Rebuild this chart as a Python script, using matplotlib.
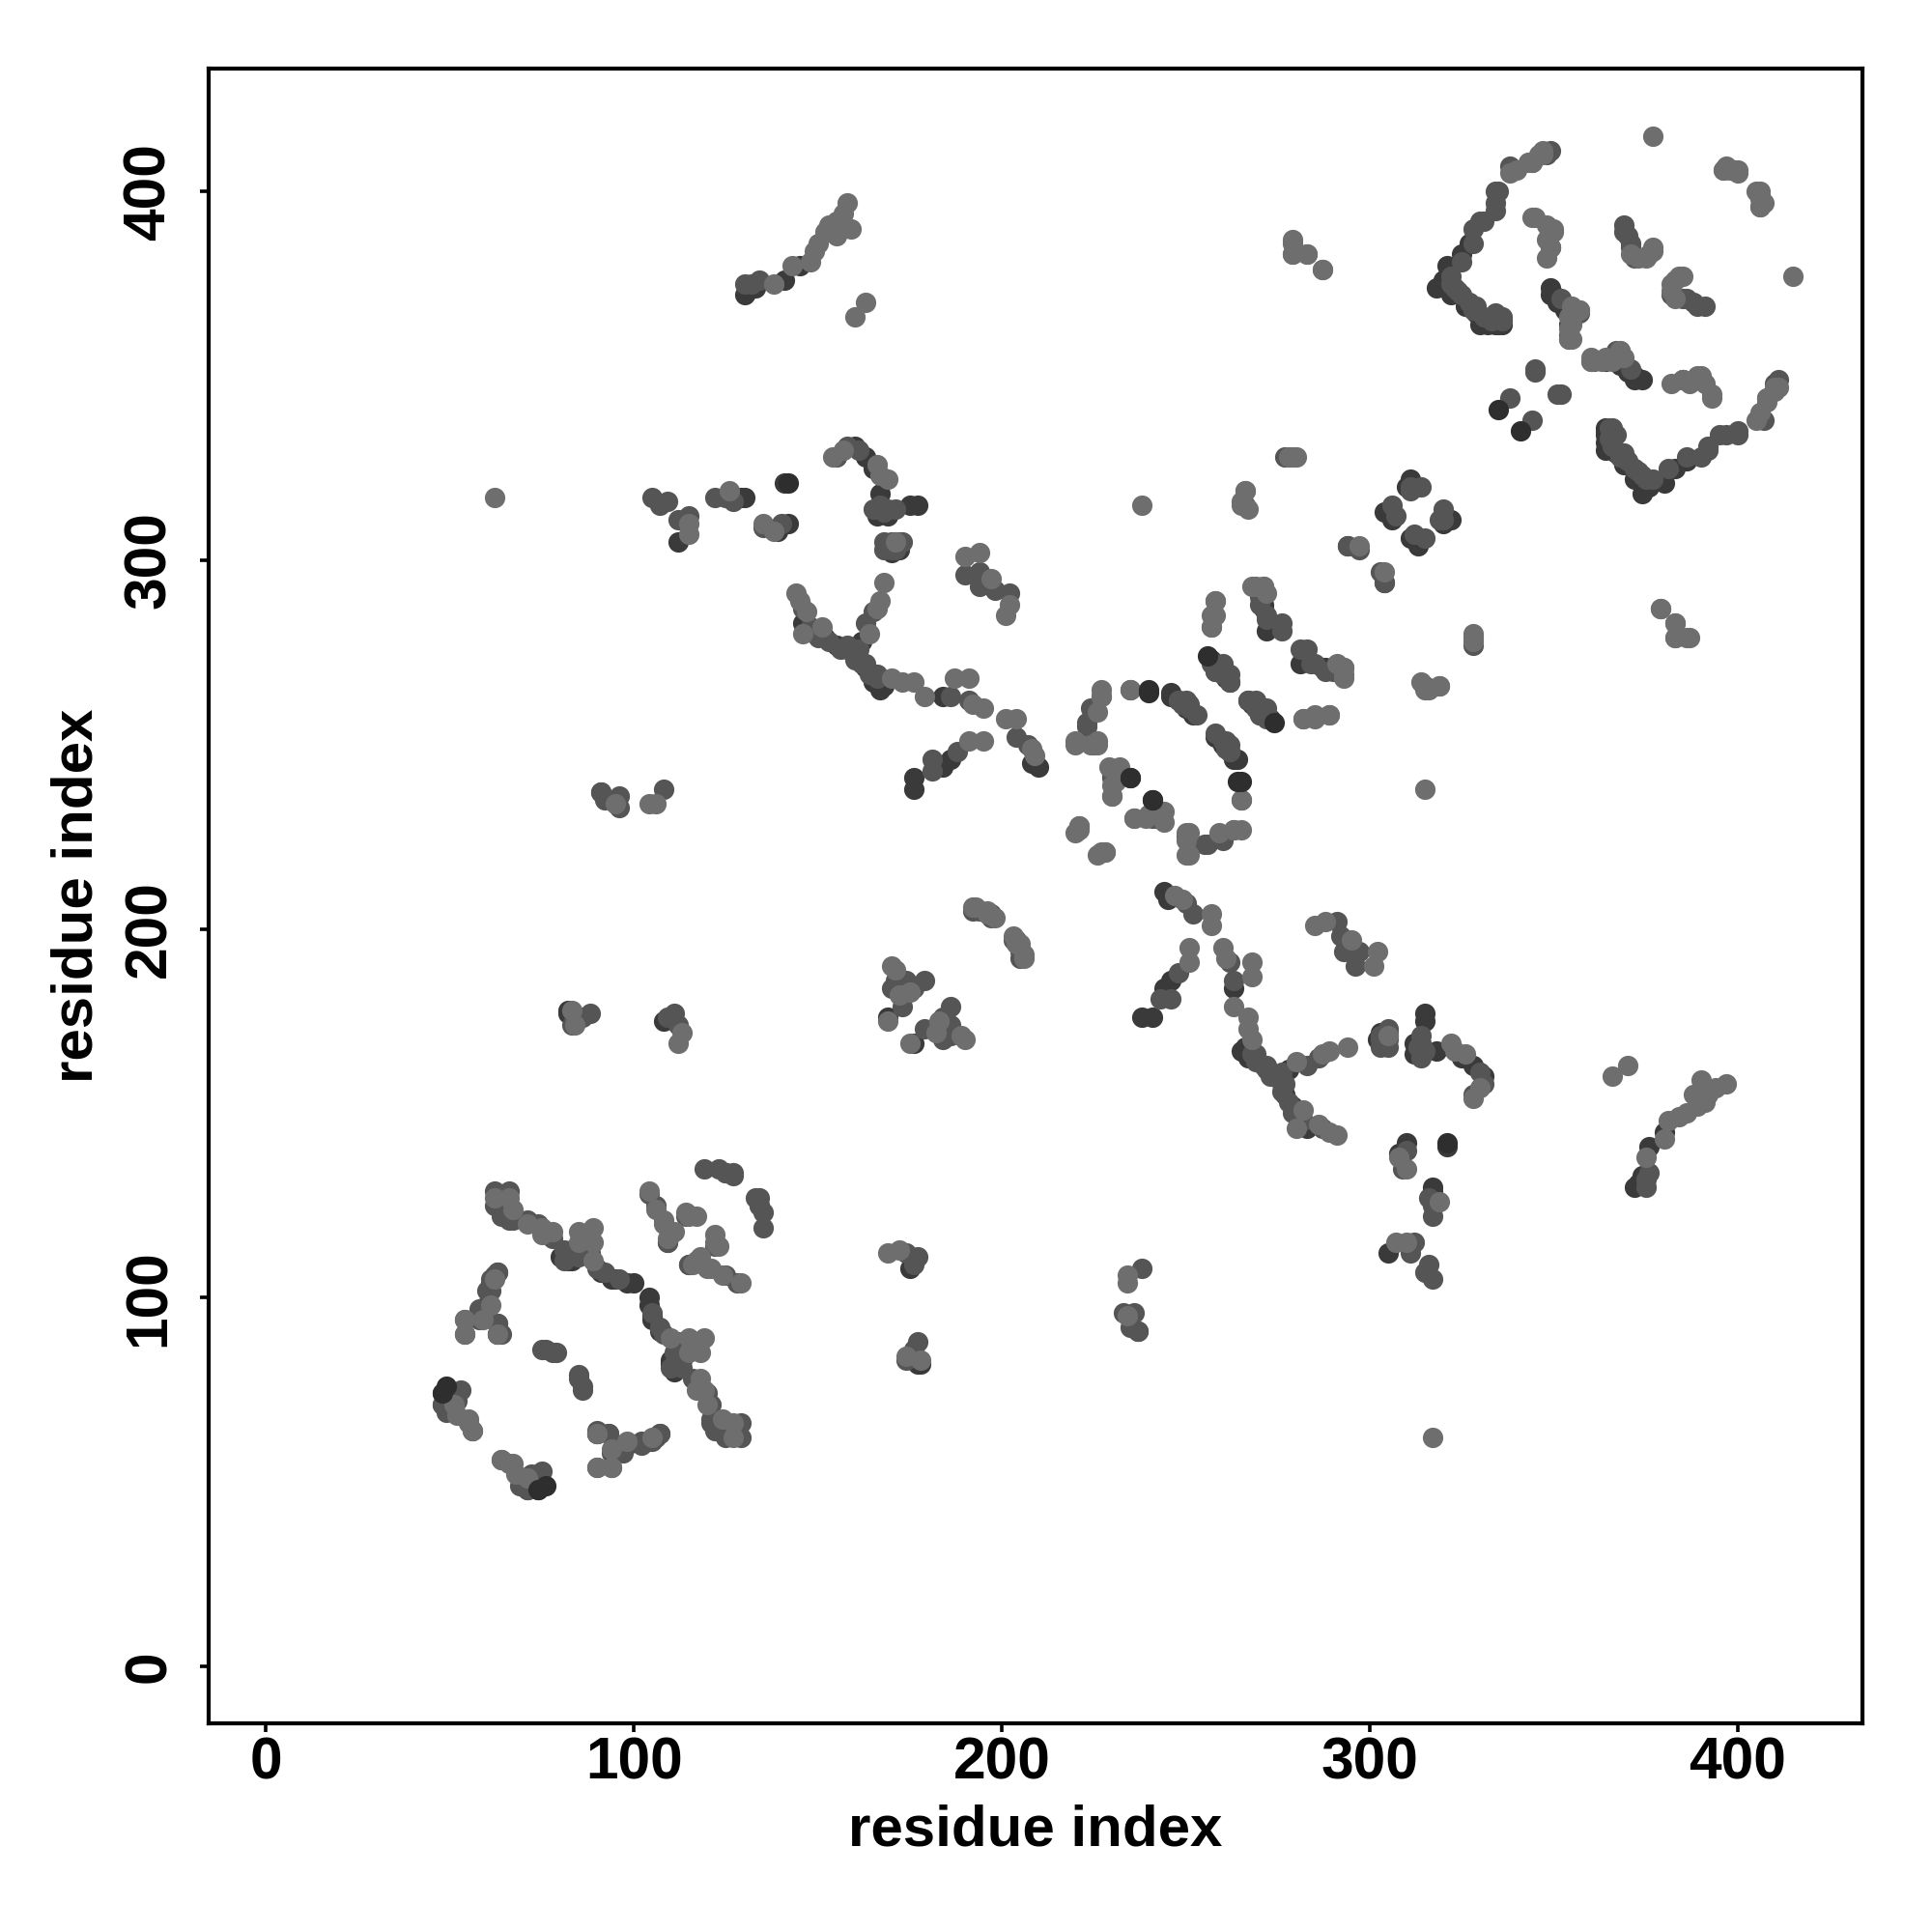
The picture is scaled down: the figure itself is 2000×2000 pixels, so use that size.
import numpy as np
import matplotlib
matplotlib.use("Agg")
import matplotlib.pyplot as plt

plt.rcParams['font.family'] = ['Liberation Sans', 'DejaVu Sans']

# contact pairs (i, j), i < j. the map is symmetric so
# every pair is drawn twice
contacts_black = [
    (74,48),(76,49),(142,321),(235,241),(241,235),(240,264),(265,240),(335,341),(274,256),
]
contacts_dark = [
    (48,74),(50,74),(71,48),(80,111),(83,110),(100,104),(94,105),
    (104,98),(105,95),(107,91),(110,82),(112,84),(60,98),(61,104),(63,90),
    (130,372),(131,373),(133,374),(141,376),(145,380),
    (141,321),(139,308),(142,310),(129,317),(130,317),(112,305),
    (160,331),(163,328),(165,325),(167,318),(166,312),(169,312),(175,315),(177,315),
    (170,302),(172,303),(160,274),(163,271),(165,267),(167,265),(168,266),(184,263),
    (146,283),(152,279),(155,277),(162,278),(176,238),(176,241),(184,244),(186,246),
    (208,245),(210,244),(82,178),(108,175),(177,83),(177,82),(237,91),(176,169),
    (246,264),(250,260),(252,258),
    (257,273),(259,270),(262,267),(260,250),(263,246),(268,261),(271,258),
    (272,281),(271,287),(282,274),(288,271),(304,294),(312,320),(306,311),(313,304),
    (320,310),(322,311),(318,374),(322,372),(326,369),(330,364),(335,364),
    (349,372),(351,370),(353,368),(354,364),(370,352),(372,350),(374,349),
    (321,380),(325,383),(327,386),(376,320),(329,367),(332,364),(334,364),(336,364),
]
contacts_mid = [
    (48,71),(49,69),(52,72),(53,75),(56,64),(54,90),(58,94),(60,96),(60,102),(61,105),
    (63,93),(63,107),(75,86),(78,85),(85,79),(76,86),(66,125),(64,122),(67,121),
    (78,116),(81,113),(85,111),(88,112),(90,108),(92,107),(96,105),(81,110),(83,113),
    (74,120),(71,121),(66,121),(62,106),(65,128),(64,90),(62,129),(62,125),(66,129),
    (93,63),(90,63),(94,54),(97,58),(102,61),(107,63),(104,128),(106,125),(109,115),
    (115,109),(122,114),(119,135),(123,135),(125,134),(127,134),(133,127),(134,125),
    (86,176),(88,177),(83,174),(109,176),(111,177),(112,174),(92,235),(91,237),
    (96,236),(96,233),(108,238),(105,317),(107,315),(109,316),(112,311),(115,312),
    (122,317),(125,317),(127,316),(135,309),(140,310),(155,328),(158,331),(161,330),
    (168,313),(171,314),(170,305),(172,305),(146,287),(148,282),(150,280),(158,276),
    (161,276),(163,272),(166,269),(186,263),(191,262),(163,283),(165,286),(181,243),
    (181,246),(188,248),(204,252),(207,250),(190,296),(194,297),(194,293),(198,292),
    (202,291),(171,186),(174,186),(176,184),(173,179),(179,186),(170,184),(192,205),
    (197,204),(203,197),(205,194),(223,255),(230,241),(242,230),(250,225),(260,224),
    (256,223),(265,235),(258,253),(261,251),(262,248),(258,272),(260,271),(269,262),
    (272,260),(270,288),(272,285),(276,281),(283,276),(284,272),(290,270),(294,304),
    (303,297),(307,312),(311,320),(314,320),(315,306),(319,311),(315,266),(328,277),
    (322,377),(324,373),(328,368),(334,367),(336,365),(328,390),(331,392),(334,397),
    (335,400),(345,351),(345,352),(338,344),(349,385),(354,361),(352,371),(357,367),
    (369,389),(371,386),(382,372),(385,371),(388,370),(391,369),(325,381),(328,386),
    (330,392),(334,395),(334,400),(338,407),(344,408),(348,410),(349,411),
    (130,375),(132,375),(134,376),(150,279),(153,278),(156,276),(158,277),(160,273),
    (162,272),(164,269),(166,268),(165,314),(167,315),(169,314),(170,304),(171,303),
    (173,305),(258,270),(260,269),(262,267),(248,262),(249,261),(251,260),(261,249),
    (262,250),(270,258),(272,257),(269,260),(168,303),(168,305),(170,303),(171,305),
    (322,375),(323,374),(325,372),(327,370),(329,369),(331,366),(333,365),(336,366),
]
contacts_light = [
    (54,94),(55,66),(64,56),(68,52),(71,51),(67,55),(62,317),(63,90),(62,127),(66,127),
    (67,124),(71,120),(75,119),(75,117),(85,115),(88,116),(89,119),(89,115),(89,110),
    (85,118),(78,118),(90,54),(94,59),(98,61),(105,62),(104,129),(106,124),(108,121),
    (110,117),(115,122),(117,122),(114,123),(118,111),(116,109),(120,108),
    (160,366),(163,370),(138,375),(143,380),(148,381),(149,384),(150,386),(152,389),
    (153,391),(155,388),(155,392),(157,394),(158,397),(159,390),(83,178),(84,174),
    (112,169),(113,172),(104,234),(106,234),(95,234),(115,310),(115,307),(126,319),
    (135,310),(138,308),(154,328),(157,330),(166,326),(169,322),(167,323),(171,305),
    (144,291),(145,289),(147,286),(146,280),(151,282),(168,294),(167,289),(166,287),
    (164,280),(170,268),(173,267),(176,267),(179,263),(187,268),(191,268),(192,261),
    (195,260),(190,301),(194,302),(197,295),(202,288),(201,285),(191,251),(195,251),
    (201,257),(204,257),(209,247),(208,249),(170,190),(171,189),(169,175),(175,183),
    (172,182),(193,206),(196,205),(198,203),(204,196),(206,192),(220,250),(224,250),
    (226,259),(227,263),(226,250),(235,265),(232,244),(231,240),(230,236),(236,230),
    (239,230),(244,229),(220,226),(221,228),(227,221),(228,221),(251,226),(251,220),
    (263,227),(265,227),(258,289),(258,285),(257,282),(268,293),(271,293),(272,291),
    (282,257),(285,257),(289,258),(279,386),(279,383),(283,383),(287,379),(278,328),
    (280,328),(238,315),(266,319),(265,315),(267,314),(293,269),(293,271),(297,304),
    (316,265),(319,266),(328,279),(379,287),(383,283),(383,279),(387,279),(377,415),
    (346,410),(347,411),(340,406),(338,405),(344,408),(345,393),(348,391),(350,389),
    (349,385),(355,369),(357,368),(355,364),(355,360),(360,354),(363,354),(368,357),
    (366,354),(348,382),(349,385),(348,387),(344,393),(377,384),(373,382),(375,382),
    (371,383),(383,376),(385,377),(396,406),(398,406),(400,405),(397,407),(399,406),
    (354,360),(350,390),(400,406),(406,396),(406,399),(343,408),(347,410),
]

tone_colors = ['#3a3a3a', '#555555', '#6e6e6e', '#2e2e2e']
tick_values = [0, 100, 200, 300, 400]
axis_label = 'residue index'

fig = plt.figure(figsize=(10, 10), dpi=200)
ax = fig.add_axes([0.108, 0.108, 0.856, 0.8565])

groups = [contacts_dark, contacts_mid, contacts_light, contacts_black]
for pairs, colr in zip(groups, tone_colors):
    pts = np.array(pairs)
    ax.scatter(np.r_[pts[:, 0], pts[:, 1]], np.r_[pts[:, 1], pts[:, 0]],
               s=58, c=colr, linewidths=0, zorder=3)

ax.set_xlim(-15.6, 433.9)
ax.set_ylim(-15.5, 433.4)
ax.set_xticks(tick_values)
ax.set_yticks(tick_values)
ax.set_xticklabels(tick_values, fontsize=21.8, fontweight='bold')
ax.set_yticklabels(tick_values, fontsize=21.8, fontweight='bold', rotation=90, va='center')
ax.tick_params(axis='x', length=3.2, width=1.3, pad=1.8)
ax.tick_params(axis='y', length=3.2, width=1.3, pad=8.3)
ax.set_xlabel(axis_label, fontsize=21.6, fontweight='bold', labelpad=4.6)
ax.set_ylabel(axis_label, fontsize=21.6, fontweight='bold', labelpad=7.0)
for sp in ax.spines.values():
    sp.set_linewidth(1.5)

fig.savefig('out.png', dpi=200)
